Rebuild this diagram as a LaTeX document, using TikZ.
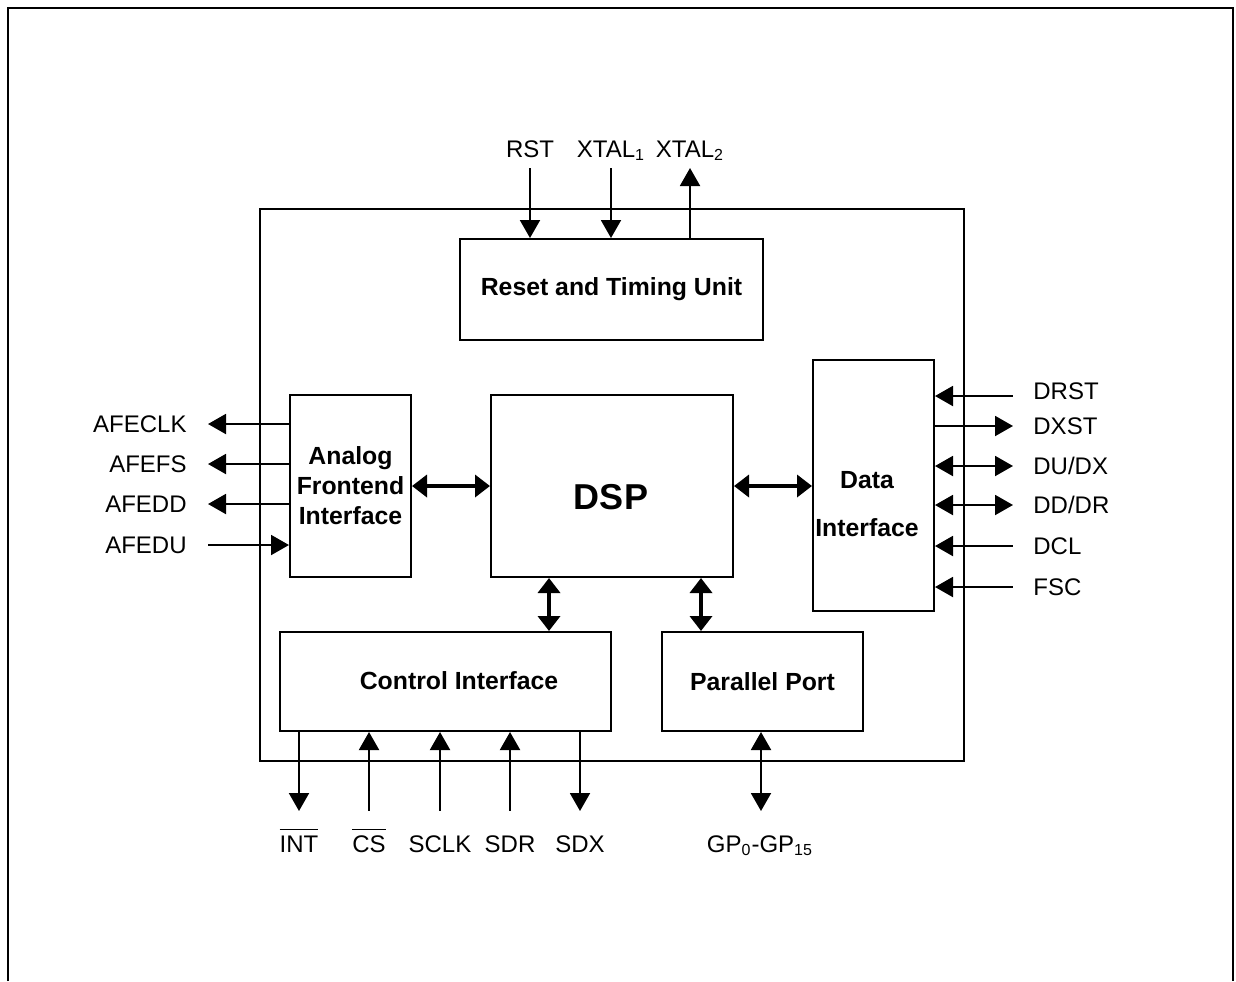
\documentclass[tikz,border=0pt]{standalone}
\usepackage{fontspec}
\setmainfont{Liberation Sans}
\usetikzlibrary{arrows.meta}
\newcommand\barsig[1]{\vbox{\hrule height 0.7pt\kern 2.6pt\hbox{#1}}}

\begin{document}
\begin{tikzpicture}[x=0.5pt,y=-0.5pt,
    blk/.style={draw,line width=1pt,inner sep=0pt,anchor=north west,align=center,
        font=\fontsize{12.4}{15}\selectfont\bfseries},
    btxt/.style={inner sep=0pt,align=center,font=\fontsize{12.4}{15}\selectfont\bfseries},
    lbl/.style={inner sep=0pt,text height=8.6pt,text depth=0pt,font=\fontsize{12}{15}\selectfont},
    pinin/.style={line width=1pt,{Triangle[length=9pt,width=10pt]}-},
    pinout/.style={line width=1pt,-{Triangle[length=9pt,width=10pt]}},
    pinio/.style={line width=1pt,{Triangle[length=9pt,width=10pt]}-{Triangle[length=9pt,width=10pt]}},
    bus/.style={line width=1.8pt,{Triangle[length=7.5pt,width=11pt]}-{Triangle[length=7.5pt,width=11pt]}}]
    \useasboundingbox (0,0) rectangle (1236,981);

    % page frame, open at the bottom
    \draw[line width=1.2pt] (8,981) -- (8,8) -- (1233,8) -- (1233,981);

    % blocks
    \node[blk,minimum width=352pt,minimum height=276pt] (chip) at (259,208) {};
    \node[blk,minimum width=151.5pt,minimum height=50.5pt] (reset) at (459,238) {Reset and Timing Unit};
    \node[blk,minimum width=60.5pt,minimum height=91pt] (afe) at (289,394) {Analog\\Frontend\\Interface};
    \node[blk,minimum width=121pt,minimum height=91pt] (dsp) at (490,394) {};
    \node[btxt,font=\fontsize{18}{20}\selectfont\bfseries] (dsptxt) at (611,497) {DSP};
    \node[blk,minimum width=60.5pt,minimum height=125.5pt] (data) at (812,359) {};
    \node[btxt] (datatxt) at (867,504) {Data\\[9pt]Interface};
    \node[blk,minimum width=165.5pt,minimum height=49.5pt] (ctrl) at (279,631) {};
    \node[btxt] (ctrltxt) at (459,681) {Control Interface};
    \node[blk,minimum width=100.5pt,minimum height=49.5pt] (par) at (661,631) {Parallel Port};

    % internal buses
    \draw[bus] (afe.east) -- (dsp.west);
    \draw[bus] (dsp.east) -- (dsp.east -| data.west);
    \coordinate (cbus) at (549,600);
    \coordinate (pbus) at (701,600);
    \draw[bus] (cbus |- dsp.south) -- (cbus |- ctrl.north);
    \draw[bus] (pbus |- dsp.south) -- (pbus |- par.north);

    % reset and clock pins
    \foreach \x/\sty/\txt [count=\i] in {530/pinin/RST, 611/pinin/XTAL\textsubscript{1}, 690/pinout/XTAL\textsubscript{2}} {
        \coordinate (r\i) at (\x,168);
        \draw[\sty] (r\i |- reset.north) -- (r\i);
        \node[lbl,anchor=base] (rl\i) at (\x,157) {\txt};
    }

    % analog frontend pins
    \foreach \y/\sty/\txt [count=\i] in {424/pinout/AFECLK, 464/pinout/AFEFS, 504/pinout/AFEDD, 545/pinin/AFEDU} {
        \coordinate (a\i) at (208,\y);
        \draw[\sty] (a\i -| afe.west) -- (a\i);
        \node[lbl,anchor=east] (al\i) at (187,\y) {\txt};
    }

    % data interface pins
    \foreach \y/\ly/\sty/\txt [count=\i] in {396/391/pinin/DRST, 426/426/pinout/DXST, 466/466/pinio/{DU/DX},
            505/505/pinio/{DD/DR}, 546/546/pinin/DCL, 587/587/pinin/FSC} {
        \coordinate (d\i) at (1013,\y);
        \draw[\sty] (d\i -| data.east) -- (d\i);
        \node[lbl,anchor=west] (dl\i) at (1033,\ly) {\txt};
    }

    % control interface pins
    \foreach \x/\sty/\txt [count=\i] in {299/pinout/\barsig{INT}, 369/pinin/\barsig{CS}, 440/pinin/SCLK,
            510/pinin/SDR, 580/pinout/SDX} {
        \coordinate (c\i) at (\x,811);
        \draw[\sty] (c\i |- ctrl.south) -- (c\i);
        \node[lbl,anchor=base] (cl\i) at (\x,852) {\txt};
    }

    % parallel port
    \coordinate (gp) at (761,811);
    \draw[pinio] (gp |- par.south) -- (gp);
    \node[lbl,anchor=base] (gpl) at (760,852) {GP\textsubscript{0}-GP\textsubscript{15}};
\end{tikzpicture}
\end{document}
